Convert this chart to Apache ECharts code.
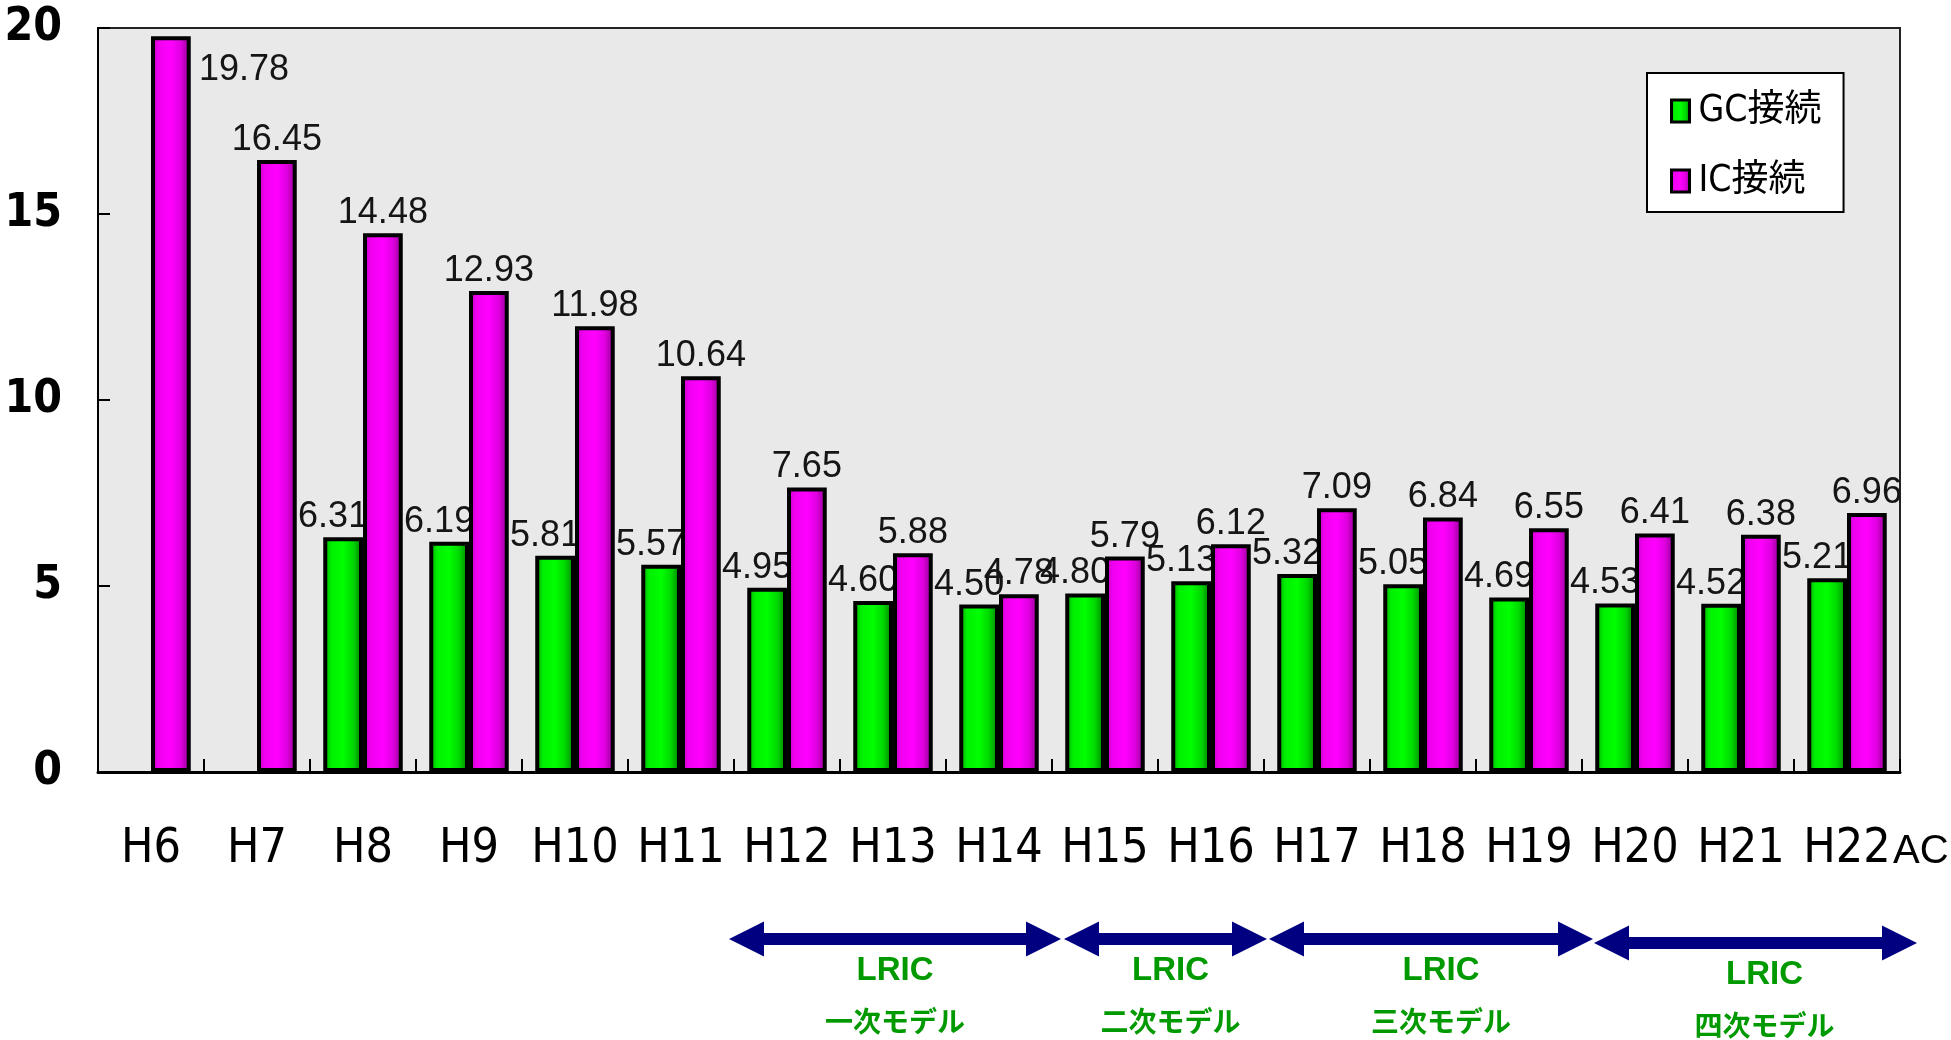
<!DOCTYPE html>
<html>
<head>
<meta charset="utf-8">
<script src="https://cdn.jsdelivr.net/npm/echarts@6/dist/echarts.min.js"></script>
<style>
html,body{margin:0;padding:0;background:#fff;}
#c{width:1951px;height:1040px;}
</style>
</head>
<body>
<div id="c"></div>
<script>
// ---- data ----
const categories = ['H6','H7','H8','H9','H10','H11','H12','H13','H14','H15','H16','H17','H18','H19','H20','H21','H22'];
const gcValues = [null, null, 6.31, 6.19, 5.81, 5.57, 4.95, 4.60, 4.50, 4.80, 5.13, 5.32, 5.05, 4.69, 4.53, 4.52, 5.21];
const icValues = [19.78, 16.45, 14.48, 12.93, 11.98, 10.64, 7.65, 5.88, 4.78, 5.79, 6.12, 7.09, 6.84, 6.55, 6.41, 6.38, 6.96];
const seriesNames = ['GC接続', 'IC接続'];
const yMin = 0, yMax = 20, yStep = 5;
const trailingLabel = 'AC';
// model periods: first and last category index of each arrow
const periodStart = [6, 9, 11, 14];
const periodEnd = [8, 10, 13, 16];
const periodLine1 = ['LRIC', 'LRIC', 'LRIC', 'LRIC'];
const periodLine2 = ['一次モデル', '二次モデル', '三次モデル', '四次モデル'];

const chart = echarts.init(document.getElementById('c'));

const greenGrad = new echarts.graphic.LinearGradient(0, 0, 1, 0, [
  {offset: 0, color: '#00a000'},
  {offset: 0.2, color: '#00f000'},
  {offset: 0.5, color: '#00ff00'},
  {offset: 0.75, color: '#00d800'},
  {offset: 1, color: '#007800'}
]);
const magentaGrad = new echarts.graphic.LinearGradient(0, 0, 1, 0, [
  {offset: 0, color: '#c000c0'},
  {offset: 0.2, color: '#f000f0'},
  {offset: 0.5, color: '#ff00ff'},
  {offset: 0.75, color: '#e000e0'},
  {offset: 1, color: '#880088'}
]);

const valueLabel = {
  show: true,
  position: 'top',
  distance: 2,
  fontFamily: 'Liberation Sans, Arial, sans-serif',
  fontSize: 36,
  color: '#151515',
  formatter: p => (p.value == null ? '' : Number(p.value).toFixed(2))
};

const icData = icValues.map((v, i) => {
  if (v > yMax - 1) {
    return {value: v, label: {position: [48, 16], align: 'left', verticalAlign: 'top'}};
  }
  return v;
});

chart.setOption({
  animation: false,
  backgroundColor: '#ffffff',
  grid: {
    left: 98, right: 51, top: 28, bottom: 268,
    show: true,
    backgroundColor: '#e9e9e9',
    borderColor: '#222',
    borderWidth: 2
  },
  legend: {
    orient: 'vertical',
    left: 1647,
    top: 73,
    data: seriesNames,
    backgroundColor: '#ffffff',
    borderColor: '#000',
    borderWidth: 2,
    borderRadius: 0,
    padding: [16, 22, 9, 23],
    itemGap: 26,
    itemWidth: 18,
    itemHeight: 22,
    icon: 'rect',
    itemStyle: {borderColor: '#000', borderWidth: 3},
    textStyle: {
      fontFamily: 'Liberation Sans Narrow, DejaVu Sans Condensed, Noto Sans CJK JP, sans-serif',
      fontSize: 37,
      lineHeight: 36,
      color: '#000',
      padding: [8, 0, 0, 4]
    }
  },
  xAxis: {
    type: 'category',
    data: categories,
    axisLine: {show: true, lineStyle: {color: '#000', width: 3}},
    axisTick: {show: true, inside: true, length: 13, lineStyle: {color: '#000', width: 2}},
    axisLabel: {
      interval: 0,
      margin: 54,
      fontFamily: 'Liberation Sans Narrow, DejaVu Sans Condensed, sans-serif',
      fontSize: 48,
      color: '#000'
    },
    splitLine: {show: false}
  },
  yAxis: {
    type: 'value',
    min: yMin, max: yMax, interval: yStep,
    axisLine: {show: true, lineStyle: {color: '#000', width: 2}},
    axisTick: {show: true, inside: true, length: 12, lineStyle: {color: '#000', width: 2}},
    axisLabel: {
      margin: 36,
      padding: [18, 0, 0, 0],
      fontFamily: 'Liberation Sans Narrow, DejaVu Sans Condensed, sans-serif',
      fontWeight: 'bold',
      fontSize: 46,
      color: '#000'
    },
    splitLine: {show: false}
  },
  series: [
    {
      name: seriesNames[0],
      type: 'bar',
      z: 2,
      data: gcValues,
      barGap: '0%',
      barCategoryGap: '25%',
      itemStyle: {color: greenGrad, borderColor: '#000', borderWidth: 4},
      label: Object.assign({}, valueLabel, {offset: [-10, 0]})
    },
    {
      name: seriesNames[1],
      type: 'bar',
      z: 3,
      data: icData,
      barGap: '0%',
      barCategoryGap: '25%',
      itemStyle: {color: magentaGrad, borderColor: '#000', borderWidth: 4},
      label: Object.assign({}, valueLabel)
    }
  ]
});

// ---- annotations below the axis, placed from category positions ----
const c0 = chart.convertToPixel({xAxisIndex: 0}, 0);
const c1 = chart.convertToPixel({xAxisIndex: 0}, 1);
const band = c1 - c0;
const leftEdge = i => chart.convertToPixel({xAxisIndex: 0}, i) - band / 2;
const rightEdge = i => chart.convertToPixel({xAxisIndex: 0}, i) + band / 2;
const tipAdjL = [-5, 12, 5, 12];
const tipAdjR = [9, 3, 11, 17];
const arrowY = [939, 939, 939, 943];
const textAdj = [0, 5, 10, 9];
const headLen = 35, headHalf = 17.5, shaftHalf = 6;

const graphics = [];
periodStart.forEach((s, k) => {
  const L = leftEdge(s) + tipAdjL[k];
  const R = rightEdge(periodEnd[k]) + tipAdjR[k];
  const Y = arrowY[k];
  graphics.push({
    type: 'polygon',
    shape: {points: [
      [L, Y], [L + headLen, Y - headHalf], [L + headLen, Y - shaftHalf],
      [R - headLen, Y - shaftHalf], [R - headLen, Y - headHalf], [R, Y],
      [R - headLen, Y + headHalf], [R - headLen, Y + shaftHalf],
      [L + headLen, Y + shaftHalf], [L + headLen, Y + headHalf]
    ]},
    style: {fill: '#000080'}
  });
  const mx = (L + R) / 2 + textAdj[k];
  graphics.push({
    type: 'text',
    x: mx, y: Y + 32,
    style: {
      text: periodLine1[k],
      font: 'bold 33px "Liberation Sans", Arial, sans-serif',
      fill: '#009a00',
      align: 'center', verticalAlign: 'middle'
    }
  });
  graphics.push({
    type: 'text',
    x: mx, y: Y + 82,
    style: {
      text: periodLine2[k],
      font: 'bold 28px "Noto Sans CJK JP", sans-serif',
      fill: '#009a00',
      align: 'center', verticalAlign: 'middle'
    }
  });
});
graphics.push({
  type: 'text',
  x: rightEdge(categories.length - 1) - 7,
  y: 852,
  style: {
    text: trailingLabel,
    font: '40px "Liberation Sans", Arial, sans-serif',
    fill: '#000',
    align: 'left', verticalAlign: 'middle'
  }
});
chart.setOption({graphic: graphics});
</script>
</body>
</html>
